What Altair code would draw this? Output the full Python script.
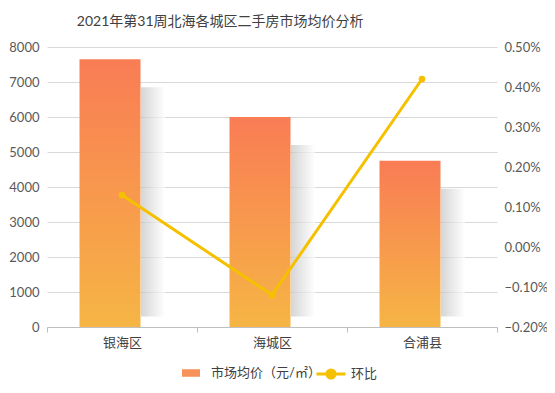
import altair as alt
import pandas as pd

districts = ["银海区", "海城区", "合浦县"]
price = [7650, 6000, 4750]
mom = [0.0013, -0.0012, 0.0042]

df = pd.DataFrame({"district": districts, "price": price, "mom": mom})

FONT = "Lato, Noto Sans CJK SC"
BAR_NAME = "市场均价（元/㎡）"
LINE_NAME = "环比"

base = alt.Chart(df)
xenc = alt.X("district:N", sort=districts, title=None,
             scale=alt.Scale(paddingInner=0, paddingOuter=0),
             axis=alt.Axis(labelAngle=0, labelFontSize=13, labelColor="#404040",
                           labelFont=FONT, tickBand="extent", tickSize=5,
                           domainColor="#bfbfbf", tickColor="#bfbfbf",
                           labelPadding=4, grid=False))
ydom = alt.Scale(domain=[0, 8000], nice=False, zero=True)

shadow = base.transform_calculate(
    top="datum.price - 800", bot="300"
).mark_bar(
    width=24, xOffset=31,
    fill=alt.Gradient(gradient="linear", x1=0, x2=1, y1=0, y2=0,
                      stops=[alt.GradientStop(color="#c4c4c4", offset=0),
                             alt.GradientStop(color="#ffffff", offset=1)]),
    opacity=0.7,
).encode(x=xenc, y=alt.Y("top:Q", scale=ydom, axis=None), y2="bot:Q")

swatch = "M-1,-0.42L1,-0.42L1,0.42L-1,0.42Z"
bar = base.transform_calculate(series=f"'{BAR_NAME}'").mark_bar(
    width=61, xOffset=-12,
    fill=alt.Gradient(gradient="linear", x1=0, x2=0, y1=0, y2=1,
                      stops=[alt.GradientStop(color="#F97C55", offset=0),
                             alt.GradientStop(color="#F6B545", offset=1)]),
).encode(
    x=xenc,
    y=alt.Y("price:Q", scale=ydom, title=None,
            axis=alt.Axis(values=list(range(0, 8001, 1000)), format="d", grid=True,
                          gridColor="#d9d9d9", domain=False, ticks=False,
                          labelPadding=8, labelFontSize=13, labelColor="#595959",
                          labelFont=FONT)),
    color=alt.Color("series:N", scale=alt.Scale(range=["#F7925A"]),
                    legend=alt.Legend(title=None, orient="none", legendX=134, legendY=316,
                                      symbolType=swatch, symbolSize=324,
                                      labelOffset=10, labelFontSize=13,
                                      labelColor="#404040", labelFont=FONT)),
)

rdom = alt.Scale(domain=[-0.002, 0.005], nice=False, zero=False)
line = base.mark_line(color="#F5C000", strokeWidth=3).encode(
    x=xenc,
    y=alt.Y("mom:Q", scale=rdom, title=None,
            axis=alt.Axis(orient="right", format=".2%",
                          values=[-0.002, -0.001, 0, 0.001, 0.002, 0.003, 0.004, 0.005],
                          grid=False, domain=False, ticks=False, labelPadding=7,
                          labelFontSize=13, labelColor="#595959", labelFont=FONT)),
)

sym = "M-1,0L-0.3,0M0.3,0L1,0M-0.28,0A0.28,0.28 0 1,0 0.28,0A0.28,0.28 0 1,0 -0.28,0Z"
points = base.transform_calculate(series=f"'{LINE_NAME}'").mark_point(
    filled=True, size=45, opacity=1
).encode(
    x=xenc,
    y=alt.Y("mom:Q", scale=rdom, axis=None),
    color=alt.Color("series:N", scale=alt.Scale(range=["#F5C000"]),
                    legend=alt.Legend(title=None, orient="none", legendX=268, legendY=311,
                                      symbolType=sym,
                                      symbolSize=841, symbolStrokeWidth=3,
                                      symbolStrokeColor="#F5C000",
                                      symbolFillColor="#F5C000", symbolOpacity=1,
                                      labelFontSize=13, labelColor="#404040",
                                      labelFont=FONT)),
)

chart = alt.layer(shadow, bar, line, points).resolve_scale(
    y="independent", color="independent"
).properties(
    width=450, height=280,
    autosize=alt.AutoSizeParams(type="none"),
    padding={"left": 39, "top": 39, "right": 50, "bottom": 58},
    title=alt.TitleParams("2021年第31周北海各城区二手房市场均价分析", anchor="start",
                          dx=68, offset=12, fontSize=14,
                          fontWeight="normal", color="#404040", font=FONT),
).configure_view(stroke=None)

chart.save("out.html", embed_options={"renderer": "svg", "actions": False})
